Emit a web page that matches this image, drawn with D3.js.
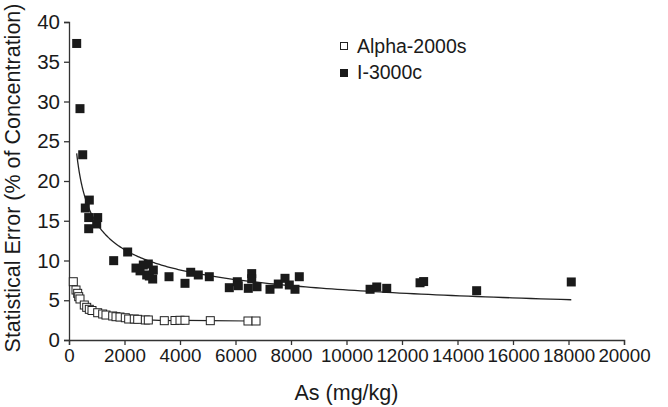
<!DOCTYPE html>
<html><head><meta charset="utf-8">
<script src="https://cdn.jsdelivr.net/npm/d3@7"></script>
<style>body{margin:0;background:#fff}svg{display:block}text{font-family:"Liberation Sans",Arial,sans-serif;fill:#1a1a1a}</style>
</head><body><svg id="c" width="668" height="407"></svg>
<script>
// Alpha-2000s: As (mg/kg), statistical error (%)
const alphaX = [155,252,313,350,396,551,638,732,829,1034,1214,1333,1575,1694,1838,2029,2151,2353,2476,2750,2858,3434,3820,4000,4180,5092,6450,6740];
const alphaY = [7.33,6.29,5.87,5.45,5.16,4.40,4.11,3.86,3.71,3.43,3.27,3.14,3.02,2.93,2.89,2.80,2.64,2.64,2.60,2.52,2.52,2.43,2.45,2.48,2.48,2.43,2.39,2.39];
// I-3000c
const iX = [277,396,494,587,710,710,732,998,1034,1610,2114,2414,2560,2678,2800,2858,2895,3016,3038,3604,4180,4386,4659,5056,5777,6065,6101,6461,6584,6584,6775,7243,7542,7784,7939,8144,8299,10850,11090,11450,12650,12780,14690,18100];
const iY = [37.3,29.1,23.3,16.6,15.4,14.0,17.6,14.6,15.4,9.98,11.07,9.05,8.7,9.43,8.18,9.56,8.05,7.67,8.8,7.96,7.13,8.52,8.18,7.96,6.58,7.33,6.83,6.5,8.35,7.7,6.7,6.38,7.04,7.76,6.92,6.38,7.96,6.38,6.67,6.5,7.2,7.35,6.2,7.3];
const xTicks = [0,2000,4000,6000,8000,10000,12000,14000,16000,18000,20000];
const yTicks = [0,5,10,15,20,25,30,35,40];
const seriesNames = ["Alpha-2000s","I-3000c"];

const svg = d3.select("#c");
const x = d3.scaleLinear().domain([0,20000]).range([69,624]);
const y = d3.scaleLinear().domain([0,40]).range([340,22]);

// axes
const gx = svg.append("g").attr("transform","translate(0,340)")
  .call(d3.axisBottom(x).tickValues(xTicks).tickSize(5).tickPadding(4).tickFormat(d3.format("d")));
const gy = svg.append("g").attr("transform","translate(69,0)")
  .call(d3.axisLeft(y).tickValues(yTicks).tickSize(5).tickPadding(4));
[gx,gy].forEach(g=>{
  g.select(".domain").attr("stroke","#333").attr("stroke-width",1.3);
  g.selectAll(".tick line").attr("stroke","#333").attr("stroke-width",1.3);
  g.selectAll(".tick text").attr("font-size",20.5).attr("fill","#1a1a1a").attr("font-family",'"Liberation Sans",Arial,sans-serif');
});
gx.selectAll(".tick text").attr("font-size",18.8);

// axis titles
svg.append("text").attr("x",346.5).attr("y",400).attr("text-anchor","middle").attr("font-size",21.5).text("As (mg/kg)");
svg.append("text").attr("transform","translate(20,178) rotate(-90)").attr("text-anchor","middle").attr("font-size",21.5).text("Statistical Error (% of Concentration)");

// power trendline (least squares in log-log) for I-3000c
const lx = iX.map(Math.log), ly = iY.map(Math.log);
const mx = d3.mean(lx), my = d3.mean(ly);
const b = d3.sum(lx.map((v,i)=>(v-mx)*(ly[i]-my))) / d3.sum(lx.map(v=>(v-mx)*(v-mx)));
const a = Math.exp(my - b*mx);
const xmin = d3.min(iX), xmax = d3.max(iX);
const trend = d3.range(0,201).map(k=>{const xv = xmin*Math.pow(xmax/xmin,k/200); return [xv, a*Math.pow(xv,b)];});
svg.append("path").attr("d", d3.line().x(d=>x(d[0])).y(d=>y(d[1]))(trend))
  .attr("fill","none").attr("stroke","#222").attr("stroke-width",1.3);

// Alpha line connecting points
const alpha = alphaX.map((v,i)=>[v,alphaY[i]]);
svg.append("path").attr("d", d3.line().x(d=>x(d[0])).y(d=>y(d[1]))(alpha))
  .attr("fill","none").attr("stroke","#222").attr("stroke-width",1.2);

const s = 9;
svg.append("g").selectAll("rect").data(alpha).join("rect")
  .attr("x",d=>x(d[0])-s/2+0.5).attr("y",d=>y(d[1])-s/2+0.5).attr("width",s-1).attr("height",s-1)
  .attr("fill","#fff").attr("stroke","#222").attr("stroke-width",1);
const idata = iX.map((v,i)=>[v,iY[i]]);
svg.append("g").selectAll("rect").data(idata).join("rect")
  .attr("x",d=>x(d[0])-s/2).attr("y",d=>y(d[1])-s/2).attr("width",s).attr("height",s)
  .attr("fill","#1a1a1a");

// legend
const lg = svg.append("g");
lg.append("rect").attr("x",340.5).attr("y",42.5).attr("width",7).attr("height",7).attr("fill","#fff").attr("stroke","#222");
lg.append("rect").attr("x",340).attr("y",69).attr("width",8).attr("height",8).attr("fill","#1a1a1a");
lg.append("text").attr("x",357).attr("y",52.5).attr("font-size",19.5).text(seriesNames[0]);
lg.append("text").attr("x",357).attr("y",79).attr("font-size",19.5).text(seriesNames[1]);
</script></body></html>
